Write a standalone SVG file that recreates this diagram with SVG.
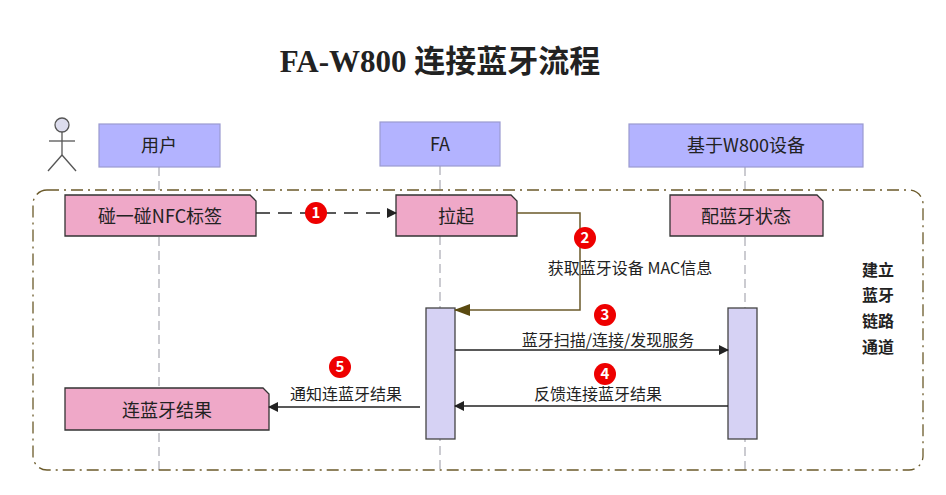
<svg xmlns="http://www.w3.org/2000/svg" width="946" height="495" viewBox="0 0 946 495">
<style>
text{font-family:"Noto Sans CJK SC","Liberation Sans",sans-serif;fill:#222}
.hd{fill:#b3b3ff;stroke:#9a9ad0;stroke-width:1.2}
.life{stroke:#b0b0b8;stroke-width:1.3;stroke-dasharray:9,5}
.note{fill:#efa8c8;stroke:#333;stroke-width:1.3}
.act{fill:#d6d2f4;stroke:#444;stroke-width:1.3}
.msg{stroke:#222;stroke-width:1.3;fill:none}
.b{fill:#e00}
.bt{fill:#fff;font-weight:bold;font-size:15px;text-anchor:middle}
.t{font-size:16px;text-anchor:middle}
</style>
<defs>
<marker id="ar" markerWidth="10" markerHeight="10" refX="9" refY="5" orient="auto" markerUnits="userSpaceOnUse"><path d="M0,0 L10,5 L0,10 Z" fill="#222"/></marker>
<marker id="ab" markerWidth="16" markerHeight="12" refX="15" refY="6" orient="auto" markerUnits="userSpaceOnUse"><path d="M0,0 L16,6 L0,12 Z" fill="#5a4a10"/></marker>
</defs>
<rect width="946" height="495" fill="#fff"/>
<text x="440" y="72" style="font-family:'Liberation Serif','Noto Sans CJK SC',serif;font-weight:bold;font-size:31px" text-anchor="middle">FA-W800 连接蓝牙流程</text>
<g id="lifelines">
<line class="life" x1="159" y1="167" x2="159" y2="472"/>
<line class="life" x1="440" y1="166" x2="440" y2="472"/>
<line class="life" x1="745" y1="167" x2="745" y2="472"/>
</g>
<g id="frame"><rect x="33" y="190" width="890" height="280" rx="14" fill="none" stroke="#6b5a2a" stroke-width="1.3" stroke-dasharray="12,5,2,5"/>
<text x="878" y="276" style="font-size:16px;font-weight:bold" text-anchor="middle">建立</text>
<text x="878" y="301" style="font-size:16px;font-weight:bold" text-anchor="middle">蓝牙</text>
<text x="878" y="327" style="font-size:16px;font-weight:bold" text-anchor="middle">链路</text>
<text x="878" y="353" style="font-size:16px;font-weight:bold" text-anchor="middle">通道</text></g>
<g id="actor" stroke="#555" stroke-width="1.3" fill="none"><circle cx="62" cy="125" r="7" fill="#dde"/><line x1="62" y1="132" x2="62" y2="155"/><line x1="49" y1="141" x2="75" y2="141"/><line x1="62" y1="155" x2="48" y2="171"/><line x1="62" y1="155" x2="76" y2="171"/></g>
<g id="h-user"><rect class="hd" x="99" y="124" width="121" height="43"/><text class="t" x="159" y="152" style="font-size:18px">用户</text></g>
<g id="h-fa"><rect class="hd" x="380" y="122" width="120" height="44"/><text class="t" x="440" y="151" style="font-size:18px">FA</text></g>
<g id="h-dev"><rect class="hd" x="629" y="124" width="234" height="43"/><text class="t" x="746" y="152" style="font-size:18px">基于W800设备</text></g>
<g id="n-nfc"><path class="note" d="M65,195 H250 L256,201 V236 H65 Z"/><text class="t" x="160" y="223" style="font-size:18px">碰一碰NFC标签</text></g>
<g id="n-la"><path class="note" d="M396,195 H511 L517,201 V236 H396 Z"/><text class="t" x="456" y="223" style="font-size:18px">拉起</text></g>
<g id="n-pei"><path class="note" d="M670,195 H817 L823,201 V236 H670 Z"/><text class="t" x="746" y="223" style="font-size:18px">配蓝牙状态</text></g>
<g id="n-res"><path class="note" d="M65,388 H263 L269,394 V430 H65 Z"/><text class="t" x="167" y="417" style="font-size:18px">连蓝牙结果</text></g>
<g id="act-fa"><rect class="act" x="426" y="308" width="29" height="131"/></g>
<g id="act-dev"><rect class="act" x="728" y="308" width="29" height="131"/></g>
<g id="connectors">
<line class="msg" x1="256" y1="213" x2="396" y2="213" stroke-dasharray="14,8" marker-end="url(#ar)"/>
<path d="M517,213 H580 V310 H455" fill="none" stroke="#6b5a2a" stroke-width="1.5" marker-end="url(#ab)"/>
<line class="msg" x1="455" y1="350" x2="728" y2="350" marker-end="url(#ar)"/>
<line class="msg" x1="728" y1="406" x2="455" y2="406" marker-end="url(#ar)"/>
<line class="msg" x1="420" y1="407" x2="269" y2="407" marker-end="url(#ar)"/>
<text class="t" x="630" y="274">获取蓝牙设备 MAC信息</text>
<text class="t" x="608" y="346">蓝牙扫描/连接/发现服务</text>
<text class="t" x="598" y="400">反馈连接蓝牙结果</text>
<text class="t" x="346" y="400">通知连蓝牙结果</text>
</g>
<g id="badges">
<circle class="b" cx="316" cy="213" r="11"/><text class="bt" x="316" y="218">1</text>
<circle class="b" cx="585" cy="238" r="11"/><text class="bt" x="585" y="243">2</text>
<circle class="b" cx="605" cy="315" r="11"/><text class="bt" x="605" y="320">3</text>
<circle class="b" cx="605" cy="374" r="11"/><text class="bt" x="605" y="379">4</text>
<circle class="b" cx="340" cy="367" r="11"/><text class="bt" x="340" y="372">5</text>
</g>
</svg>
